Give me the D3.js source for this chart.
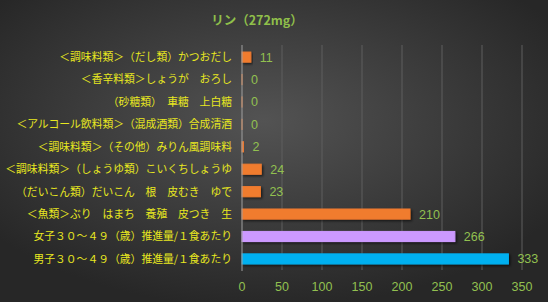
<!DOCTYPE html>
<html><head><meta charset="utf-8">
<script src="https://cdn.jsdelivr.net/npm/d3@7"></script>
<style>body{margin:0;background:#2b2b2b;}svg{display:block;}</style>
</head><body>
<script>
const title = "リン（272mg）";
const categories = [
  "＜調味料類＞（だし類）かつおだし",
  "＜香辛料類＞しょうが　おろし",
  "（砂糖類）　車糖　上白糖",
  "＜アルコール飲料類＞（混成酒類）合成清酒",
  "＜調味料類＞（その他）みりん風調味料",
  "＜調味料類＞（しょうゆ類）こいくちしょうゆ",
  "（だいこん類）だいこん　根　皮むき　ゆで",
  "＜魚類＞ぶり　はまち　養殖　皮つき　生",
  "女子３０～４９（歳）推進量/１食あたり",
  "男子３０～４９（歳）推進量/１食あたり"
];
const values = [11, 0, 0, 0, 2, 24, 23, 210, 266, 333];
const barColors = ["#f07b2f","#f07b2f","#f07b2f","#f07b2f","#f07b2f","#f07b2f","#f07b2f","#f07b2f","#cc99ff","#00b0f0"];
const xTicks = [0, 50, 100, 150, 200, 250, 300, 350];

const W = 548, H = 302;
const svg = d3.select("body").append("svg").attr("width", W).attr("height", H);
const defs = svg.append("defs");
const rg = defs.append("radialGradient").attr("id","bg").attr("cx","48%").attr("cy","40%").attr("r","62%");
rg.append("stop").attr("offset","0%").attr("stop-color","#535353");
rg.append("stop").attr("offset","100%").attr("stop-color","#272727");
const f = defs.append("filter").attr("id","sh").attr("x","-10%").attr("y","-50%").attr("width","130%").attr("height","220%");
f.append("feDropShadow").attr("dx",1.5).attr("dy",1.5).attr("stdDeviation",1).attr("flood-color","#000").attr("flood-opacity",0.6);

svg.append("rect").attr("width",W).attr("height",H).attr("fill","url(#bg)");

const x = d3.scaleLinear().domain([0, 350]).range([242, 522]);
const y = d3.scaleBand().domain(categories).range([46, 270]).paddingInner(0.55).paddingOuter(0.27);

// gridlines
svg.append("g").selectAll("line").data(xTicks.slice(1)).join("line")
  .attr("x1", d => x(d)).attr("x2", d => x(d)).attr("y1", 45).attr("y2", 270)
  .attr("stroke", "#5e5e5e").attr("stroke-width", 1);

// bars
svg.append("g").selectAll("rect").data(values).join("rect")
  .attr("x", x(0))
  .attr("y", (d,i) => y(categories[i]))
  .attr("width", d => Math.max(0.01, x(d) - x(0)))
  .attr("height", y.bandwidth())
  .attr("fill", (d,i) => barColors[i])
  .attr("stroke", (d,i) => barColors[i]).attr("stroke-width", 1)
  .attr("filter", "url(#sh)");

// axis line at 0
svg.append("line").attr("x1", x(0)).attr("x2", x(0)).attr("y1", 45).attr("y2", 271)
  .attr("stroke", "#a0a0a0").attr("stroke-width", 1);

// value labels
svg.append("g").selectAll("text").data(values).join("text")
  .attr("x", d => x(d) + 9)
  .attr("y", (d,i) => y(categories[i]) + y.bandwidth()/2)
  .attr("dy", "0.36em")
  .attr("fill", "#92c050")
  .attr("font-family", "Liberation Sans, Arial, sans-serif")
  .attr("font-size", 12.5)
  .text(d => d);

// category labels
svg.append("g").selectAll("text").data(categories).join("text")
  .attr("x", 232)
  .attr("y", d => y(d) + y.bandwidth()/2)
  .attr("dy", "0.36em")
  .attr("text-anchor", "end")
  .attr("fill", "#e8e820")
  .attr("font-family", "Noto Sans CJK JP, sans-serif")
  .attr("font-size", 10.8)
  .text(d => d);

// x tick labels
svg.append("g").selectAll("text").data(xTicks).join("text")
  .attr("x", d => x(d))
  .attr("y", 286)
  .attr("dy", "0.36em")
  .attr("text-anchor", "middle")
  .attr("fill", "#92c050")
  .attr("font-family", "Liberation Sans, Arial, sans-serif")
  .attr("font-size", 12.5)
  .text(d => d);

// title
svg.append("text").attr("x", 257).attr("y", 20).attr("dy","0.36em")
  .attr("text-anchor","middle").attr("fill","#8fbf4a")
  .attr("font-family","Noto Sans CJK JP, sans-serif").attr("font-weight","bold")
  .attr("font-size", 12.5).text(title);
</script>
</body></html>
